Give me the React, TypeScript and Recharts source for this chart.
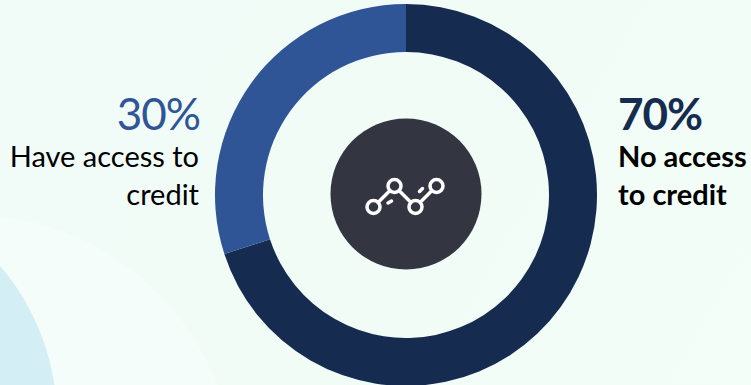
import { Cell, Pie, PieChart } from "recharts";

const segments = ["No access to credit", "Have access to credit"];
const shares = [70, 30];
const segmentColors = ["#162b50", "#2f5597"];

const data = segments.map((name, i) => ({ name, value: shares[i] }));

const WIDTH = 751;
const HEIGHT = 385;

function TrendIcon() {
  const stroke = { stroke: "#ffffff", strokeWidth: 3.5, fill: "none", strokeLinecap: "round" as const };
  return (
    <g {...stroke}>
      <circle cx={373.5} cy={207} r={6.5} />
      <circle cx={394.5} cy={186} r={6.5} />
      <circle cx={415.5} cy={207} r={6.5} />
      <circle cx={436.5} cy={186} r={6.5} />
      <line x1={378.5} y1={202} x2={389.5} y2={191} />
      <line x1={399.5} y1={191} x2={410.5} y2={202} />
      <line x1={420.5} y1={202} x2={431.5} y2={191} />
      <line x1={388} y1={203} x2={391.5} y2={201} />
      <line x1={419.5} y1={191.5} x2={422.5} y2={188.5} />
    </g>
  );
}

export default function App() {
  return (
    <div
      style={{
        position: "absolute",
        left: 0,
        top: 0,
        width: WIDTH,
        height: HEIGHT,
        overflow: "hidden",
        background: "linear-gradient(120deg, #f1fcf9 0%, #f1fcf6 60%, #f4fef8 100%)",
      }}
    >
      {/* soft background blobs, bottom left */}
      <div
        style={{
          position: "absolute",
          left: -295,
          top: 215,
          width: 530,
          height: 530,
          borderRadius: "50%",
          background: "#f5fdfa",
        }}
      />
      <div
        style={{
          position: "absolute",
          left: -417,
          top: 183,
          width: 474,
          height: 474,
          borderRadius: "50%",
          background: "#d3eef4",
        }}
      />
      <PieChart
        width={WIDTH}
        height={HEIGHT}
        margin={{ top: 0, right: 0, bottom: 0, left: 0 }}
        style={{ position: "absolute", left: 0, top: 0 }}
      >
        <Pie
          data={data}
          dataKey="value"
          cx={406}
          cy={195}
          innerRadius={143}
          outerRadius={191}
          startAngle={90}
          endAngle={-270}
          stroke="none"
          isAnimationActive={false}
        >
          {data.map((d, i) => (
            <Cell key={d.name} fill={segmentColors[i]} />
          ))}
        </Pie>
        <circle cx={406} cy={194} r={75.5} fill="#333641" />
        <TrendIcon />
        <g fontFamily="Lato, Carlito, sans-serif" textAnchor="end">
          <text x={200} y={130} fontSize={44} letterSpacing={-1} fill="#2f5597">
            30%
          </text>
          <text x={199} y={167} fontSize={29} fill="#000000">
            Have access to
          </text>
          <text x={199} y={205} fontSize={29} fill="#000000">
            credit
          </text>
        </g>
        <g fontFamily="Lato, Carlito, sans-serif" fontWeight={700}>
          <text x={618} y={130} fontSize={44} letterSpacing={-1} fill="#162b50">
            70%
          </text>
          <text x={618} y={167} fontSize={29} fill="#000000">
            No access
          </text>
          <text x={618} y={205} fontSize={29} fill="#000000">
            to credit
          </text>
        </g>
      </PieChart>
    </div>
  );
}
